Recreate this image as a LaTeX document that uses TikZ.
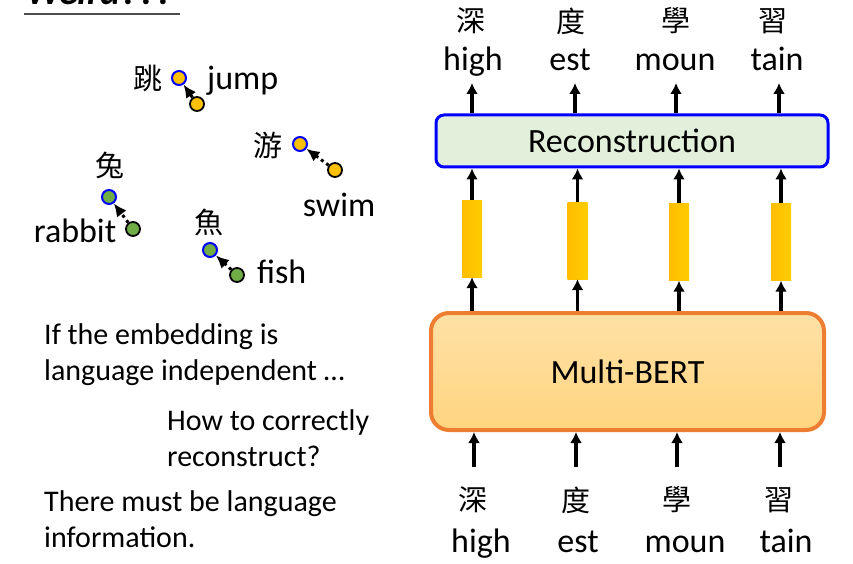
\documentclass[tikz,border=0pt]{standalone}
\usepackage{fontspec}
\setmainfont{Carlito}
\newfontfamily\cjk{Noto Sans CJK TC}
\usetikzlibrary{arrows.meta}
\definecolor{reconfill}{HTML}{E2EFDA}
\definecolor{bertedge}{HTML}{ED7D31}
\definecolor{berttop}{HTML}{FFE1A6}
\definecolor{bertbot}{HTML}{FFD47F}
\definecolor{gold}{HTML}{FFC000}
\definecolor{leaf}{HTML}{70AD47}
\tikzset{
  word/.style={font=\fontsize{34}{40}\selectfont, inner sep=0pt, anchor=base},
  hanzi/.style={font=\cjk\fontsize{29}{32}\selectfont, inner sep=0pt},
  para/.style={font=\fontsize{30}{36}\selectfont, inner sep=0pt, anchor=base west},
  arr/.style={line width=3.2pt, -{Latex[length=11pt,width=12pt]}},
  dotarr/.style={line width=3pt, dash pattern=on 3pt off 3.5pt, -{Latex[length=13pt,width=12pt]}},
  vec/.style={minimum width=20pt, minimum height=77pt, inner sep=0pt,
              left color=gold!95!orange, right color=gold!80!yellow},
  src/.style={circle, draw=blue, line width=2pt, minimum size=14pt, inner sep=0pt},
  dst/.style={circle, draw=black, line width=1.8pt, minimum size=14pt, inner sep=0pt},
}
\begin{document}
\begin{tikzpicture}[x=1pt,y=-1pt]
\useasboundingbox (0,0) rectangle (853,564);
\clip (0,0) rectangle (853,564);

% heading
\node[font=\bfseries\itshape\fontsize{38}{40}\selectfont, inner sep=0pt, anchor=base west] (title) at (26,5) {Weird???};
\draw[line width=2pt, black!70] (24,14) -- (180,14);

% word points: source (blue ring) and target
\node[src, fill=gold] (pjump) at (179,78) {};
\node[dst, fill=gold] (qjump) at (197,104) {};
\node[src, fill=gold] (pswim) at (300,144) {};
\node[dst, fill=gold] (qswim) at (335,170) {};
\node[src, fill=leaf] (prab) at (109,197) {};
\node[dst, fill=leaf] (qrab) at (133,229) {};
\node[src, fill=leaf] (pfish) at (210,250) {};
\node[dst, fill=leaf] (qfish) at (237,275) {};
\draw[dotarr] (qjump) -- (pjump);
\draw[dotarr] (qswim) -- (pswim);
\draw[dotarr] (qrab) -- (prab);
\draw[dotarr] (qfish) -- (pfish);

\node[hanzi] (tiao) at (148,78) {跳};
\node[word, anchor=base west] (jump) at (207,90) {jump};
\node[hanzi] (you) at (268,145) {游};
\node[word] (swim) at (339,216) {swim};
\node[hanzi] (tu) at (110,165) {兔};
\node[word] (rabbit) at (75,242) {rabbit};
\node[hanzi] (yu) at (209,222) {魚};
\node[word, anchor=base west] (fish) at (257,283) {fish};

% explanation text
\node[para] (t1) at (44,344) {If the embedding is};
\node[para] (t2) at (44,380) {language independent …};
\node[para] (t3) at (167,430) {How to correctly};
\node[para] (t4) at (167,466) {reconstruct?};
\node[para] (t5) at (44,511) {There must be language};
\node[para] (t6) at (44,547) {information.};

% encoder and reconstruction blocks
\node[draw=bertedge, line width=4pt, rounded corners=18pt, top color=berttop, bottom color=bertbot,
      minimum width=393pt, minimum height=117pt, inner sep=0pt,
      font=\fontsize{34}{40}\selectfont] (bert) at (627.5,371.5) {Multi-BERT};
\node[draw=blue, line width=3pt, rounded corners=8pt, fill=reconfill,
      minimum width=392pt, minimum height=52pt, inner sep=0pt,
      font=\fontsize{34}{40}\selectfont] (recon) at (632,141) {Reconstruction};

% hidden vectors
\node[vec] (v1) at (472,238.5) {};
\node[vec] (v2) at (577.5,240.5) {};
\node[vec] (v3) at (679,242) {};
\node[vec] (v4) at (781,242) {};
\foreach \v in {v1,v2,v3,v4}{
  \draw[arr] (\v.north) -- (\v.north |- recon.south);
  \draw[arr] (\v.south |- bert.north) -- (\v.south);
}

% output tokens
\node[hanzi] (oa) at (471,21) {深};
\node[hanzi] (ob) at (571,21) {度};
\node[hanzi] (oc) at (676,21) {學};
\node[hanzi] (od) at (773,21) {習};
\node[word] (ea) at (473,71) {high};
\node[word] (eb) at (570,71) {est};
\node[word] (ec) at (675,71) {moun};
\node[word] (ed) at (777,71) {tain};
\foreach \x/\n in {472/a,575/b,676/c,779/d}{
  \coordinate (top\n) at (\x,83);
  \draw[arr] (recon.north -| top\n) -- (top\n);
}

% input tokens
\foreach \x/\n in {474/a,576/b,677/c,780/d}{
  \coordinate (bot\n) at (\x,467);
  \draw[arr] (bot\n) -- (bot\n |- bert.south);
}
\node[hanzi] (ia) at (473,500) {深};
\node[hanzi] (ib) at (576,500) {度};
\node[hanzi] (ic) at (677,500) {學};
\node[hanzi] (id) at (779,500) {習};
\node[word] (fa) at (481,552) {high};
\node[word] (fb) at (578,552) {est};
\node[word] (fc) at (685,552) {moun};
\node[word] (fd) at (786,552) {tain};
\end{tikzpicture}
\end{document}
